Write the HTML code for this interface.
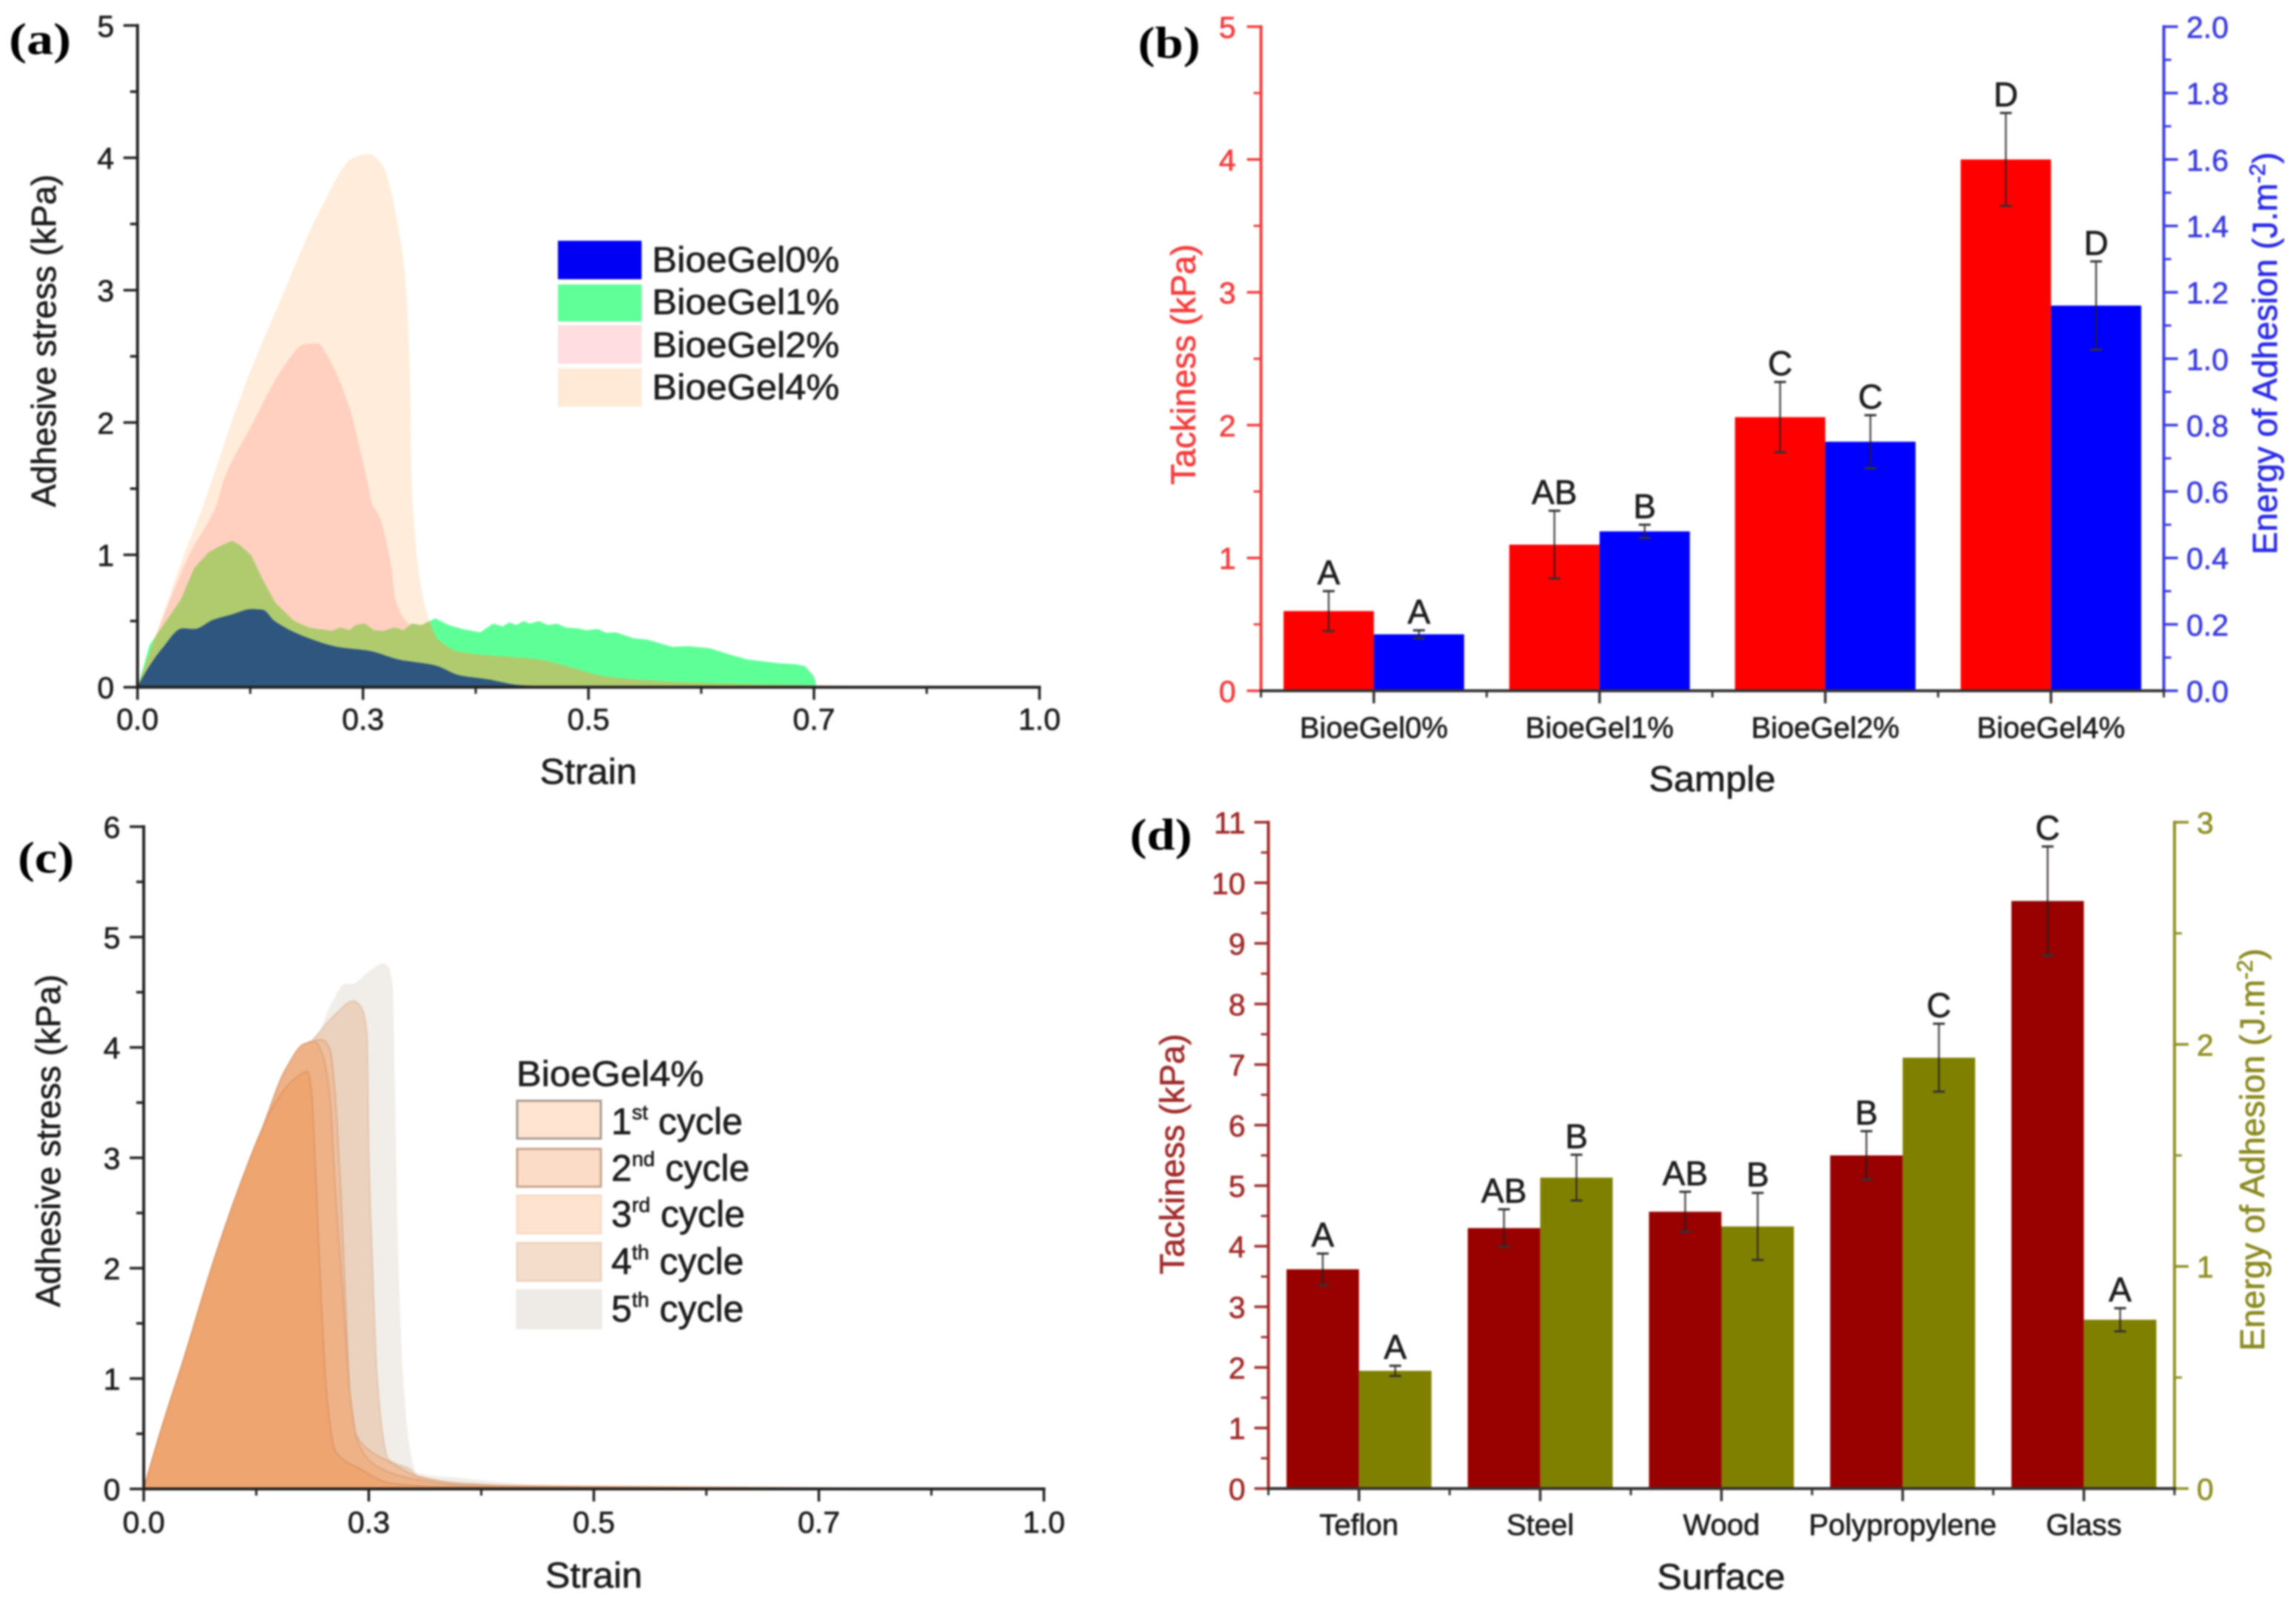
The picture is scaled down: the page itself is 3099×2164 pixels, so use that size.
<!DOCTYPE html>
<html lang="en">
<head>
<meta charset="utf-8">
<title>Adhesive properties of BioeGel samples</title>
<style>
html,body{margin:0;padding:0;background:#fff;width:3099px;height:2164px;overflow:hidden}
svg{display:block;filter:blur(1.3px)}
text{font-family:"Liberation Sans",Arial,sans-serif}
</style>
</head>
<body>
<svg id="figure" xmlns="http://www.w3.org/2000/svg" width="3099" height="2164" viewBox="0 0 3099 2164"></svg>
<script>
/* ---------- Panel (a) data: axis-fraction strain / stress kPa ---------- */
const aStrain4 = [0,0.024,0.05,0.0735,0.082,0.116,0.16,0.203,0.239,0.256,0.27,0.291,0.298,0.302,0.304,0.305,0.315,0.323,0.335,0.358,0.398,0.476,0.62,1];
const aStress4 = [0,0.47,0.97,1.386,1.554,2.225,2.95,3.61,4.0,4.03,3.96,3.40,2.97,2.32,1.554,1.386,0.73,0.51,0.34,0.22,0.10,0.03,0.005,0];
const aStrain2 = [0,0.024,0.058,0.088,0.095,0.124,0.165,0.184,0.2,0.209,0.234,0.248,0.2547,0.26,0.268,0.281,0.286,0.299,0.32,0.357,0.41,0.445,0.48,0.52,0.6,0.75,0.79,1];
const aStress2 = [0,0.45,1.01,1.386,1.554,1.946,2.45,2.59,2.6,2.52,2.13,1.76,1.554,1.386,1.29,0.92,0.66,0.49,0.42,0.267,0.23,0.21,0.15,0.08,0.04,0.015,0.01,0];
const aStrain1 = [0,0.0135,0.027,0.048,0.063,0.079,0.09,0.105,0.114,0.126,0.139,0.1525,0.1735,0.19,0.2,0.2155,0.225,0.235,0.242,0.252,0.262,0.273,0.285,0.295,0.304,0.315,0.33,0.345,0.36,0.38,0.394,0.405,0.412,0.42,0.428,0.435,0.445,0.455,0.465,0.475,0.488,0.497,0.51,0.52,0.53,0.55,0.565,0.593,0.61,0.634,0.655,0.676,0.70,0.712,0.729,0.74,0.75,0.753,1];
const aStress1 = [0,0.32,0.453,0.66,0.90,1.02,1.06,1.106,1.07,0.995,0.81,0.64,0.50,0.45,0.44,0.425,0.45,0.43,0.47,0.48,0.43,0.425,0.45,0.43,0.48,0.47,0.52,0.47,0.44,0.415,0.48,0.46,0.49,0.47,0.5,0.48,0.5,0.47,0.48,0.45,0.445,0.43,0.44,0.41,0.415,0.37,0.36,0.305,0.31,0.295,0.25,0.21,0.19,0.18,0.174,0.16,0.08,0.0,0];
const aStrain0 = [0,0.006,0.027,0.05,0.063,0.084,0.105,0.126,0.139,0.152,0.19,0.2215,0.257,0.289,0.33,0.357,0.388,0.425,0.48,1];
const aStress0 = [0,0.08,0.29,0.445,0.44,0.51,0.55,0.59,0.585,0.5,0.37,0.305,0.275,0.21,0.165,0.09,0.06,0.015,0.003,0];
const aLegendLabels = ["BioeGel0%","BioeGel1%","BioeGel2%","BioeGel4%"];

/* ---------- Shared strain / stress ticks ---------- */
const strainTickValues = [0,0.25,0.5,0.75,1];
const strainTickLabels = ["0.0","0.3","0.5","0.7","1.0"];
const aStressTicks = [0,1,2,3,4,5];
const cStressTicks = [0,1,2,3,4,5,6];

/* ---------- Panel (b) data ---------- */
const bCategories = ["BioeGel0%","BioeGel1%","BioeGel2%","BioeGel4%"];
const bTack = [0.6,1.1,2.06,4.0];
const bTackErr = [0.15,0.255,0.265,0.35];
const bTackLetters = ["A","AB","C","D"];
const bEnergy = [0.17,0.48,0.75,1.16];
const bEnergyErr = [0.012,0.02,0.08,0.133];
const bEnergyLetters = ["A","B","C","D"];
const bLeftTicks = [0,1,2,3,4,5];
const bRightTicks = ["0.0","0.2","0.4","0.6","0.8","1.0","1.2","1.4","1.6","1.8","2.0"];

/* ---------- Panel (c) data ---------- */
const cStrain1 = [0,0.021,0.045,0.076,0.1037,0.131,0.15,0.167,0.182,0.186,0.192,0.197,0.204,0.213,0.241,0.274,0.33,1];
const cStress1 = [0,0.58,1.19,2.02,2.68,3.25,3.55,3.71,3.78,3.63,2.68,1.73,0.79,0.34,0.18,0.05,0.02,0];
const cStrain2 = [0,0.021,0.045,0.076,0.1037,0.131,0.159,0.178,0.19,0.198,0.2066,0.213,0.2214,0.228,0.238,0.26,0.3,0.36,1];
const cStress2 = [0,0.58,1.19,2.02,2.68,3.25,3.82,4.03,4.05,3.95,3.57,2.68,1.73,0.95,0.42,0.2,0.09,0.03,0];
const cStrain3 = [0,0.021,0.045,0.076,0.1037,0.131,0.159,0.178,0.198,0.2066,0.212,0.219,0.2257,0.231,0.238,0.252,0.274,0.304,0.351,0.5,1];
const cStress3 = [0,0.58,1.19,2.02,2.68,3.25,3.82,4.03,4.07,3.99,3.63,2.68,1.41,0.62,0.46,0.34,0.24,0.115,0.05,0.01,0];
const cStrain4 = [0,0.021,0.045,0.076,0.1037,0.131,0.159,0.186,0.213,0.233,0.241,0.248,0.25,0.254,0.2585,0.266,0.271,0.2955,0.304,0.351,0.405,0.55,1];
const cStress4 = [0,0.58,1.19,2.02,2.68,3.25,3.82,4.05,4.3,4.42,4.37,4.11,3.0,2.05,1.10,0.46,0.275,0.18,0.115,0.05,0.02,0.005,0];
const cStrain5 = [0,0.021,0.045,0.076,0.1037,0.131,0.159,0.178,0.192,0.208,0.2245,0.23,0.249,0.266,0.2725,0.2765,0.279,0.283,0.2875,0.2955,0.303,0.351,0.433,0.628,1];
const cStress5 = [0,0.58,1.19,2.02,2.68,3.25,3.82,4.03,4.10,4.39,4.58,4.57,4.68,4.76,4.72,4.55,3.63,2.05,1.10,0.37,0.15,0.10,0.04,0.005,0];

/* ---------- Panel (d) data ---------- */
const dCategories = ["Teflon","Steel","Wood","Polypropylene","Glass"];
const dTack = [3.62,4.3,4.57,5.5,9.7];
const dTackErr = [0.26,0.31,0.33,0.4,0.9];
const dTackLetters = ["A","AB","AB","B","C"];
const dEnergy = [0.53,1.40,1.18,1.94,0.76];
const dEnergyErr = [0.023,0.103,0.151,0.153,0.052];
const dEnergyLetters = ["A","B","B","C","A"];
const dLeftTicks = [0,1,2,3,4,5,6,7,8,9,10,11];
const dRightTicks = [0,1,2,3];

const svg = document.getElementById('figure');
const NS = 'http://www.w3.org/2000/svg';

function mk(parent, tag, attrs, name) {
  const el = document.createElementNS(NS, tag);
  for (const k in attrs) el.setAttribute(k, attrs[k]);
  
  
  parent.appendChild(el);
  return el;
}
function txt(parent, str, x, y, o, name) {
  const col = o.fill || '#1c1c1c';
  const a = {x: x, y: y, 'font-size': o.size || 40, fill: col, stroke: col, 'stroke-width': o.weight ? 0 : 0.7, 'text-anchor': o.anchor || 'middle'};
  if (o.len) { a.textLength = o.len; a.lengthAdjust = 'spacingAndGlyphs'; }
  if (o.family) a.style = 'font-family:' + o.family;
  if (o.weight) a['font-weight'] = o.weight;
  if (o.rot) a.transform = 'rotate(-90 ' + x + ' ' + y + ')';
  const t = mk(parent, 'text', a, name);
  t.textContent = str;
  return t;
}
function line(parent, x1, y1, x2, y2, stroke, w, name) {
  return mk(parent, 'line', {x1: x1, y1: y1, x2: x2, y2: y2, stroke: stroke, 'stroke-width': w}, name);
}
/* straight-segment area, for the jagged trace */
function area(xs, ys, X, Y) {
  let d = '';
  for (let i = 0; i < xs.length; i++) d += (i ? 'L' : 'M') + X(xs[i]).toFixed(1) + ' ' + Y(ys[i]).toFixed(1);
  return d + 'L' + X(xs[xs.length - 1]).toFixed(1) + ' ' + Y(0).toFixed(1) + 'L' + X(xs[0]).toFixed(1) + ' ' + Y(0).toFixed(1) + 'Z';
}
/* monotone-cubic area: no overshoot on the steep falling edges */
function smoothArea(xs, ys, X, Y) {
  const n = xs.length, px = xs.map(X), py = ys.map(Y), dx = [], m = [], t = [];
  for (let i = 0; i < n - 1; i++) { dx[i] = px[i + 1] - px[i]; m[i] = (py[i + 1] - py[i]) / dx[i]; }
  t[0] = m[0]; t[n - 1] = m[n - 2];
  for (let i = 1; i < n - 1; i++) {
    if (m[i - 1] * m[i] <= 0) { t[i] = 0; continue; }
    const w1 = 2 * dx[i] + dx[i - 1], w2 = dx[i] + 2 * dx[i - 1];
    t[i] = (w1 + w2) / (w1 / m[i - 1] + w2 / m[i]);
  }
  let d = 'M' + px[0].toFixed(1) + ' ' + py[0].toFixed(1);
  for (let i = 0; i < n - 1; i++) {
    const h = dx[i] / 3;
    d += 'C' + (px[i] + h).toFixed(1) + ' ' + (py[i] + t[i] * h).toFixed(1) + ' ' + (px[i + 1] - h).toFixed(1) + ' ' + (py[i + 1] - t[i + 1] * h).toFixed(1) + ' ' + px[i + 1].toFixed(1) + ' ' + py[i + 1].toFixed(1);
  }
  return d + 'L' + px[n - 1].toFixed(1) + ' ' + Y(0).toFixed(1) + 'L' + px[0].toFixed(1) + ' ' + Y(0).toFixed(1) + 'Z';
}
function panelLabel(g, str, x, y, len, name) {
  txt(g, str, x, y, {size: 60, family: '"Liberation Serif",serif', weight: 'bold', anchor: 'start', fill: '#000', len: len}, name);
}

/* Line-chart axes for panels a and c */
function strainAxes(g, X, Y, yMax, yTicks, x0, x1, titleX, titleCY, strainY, tickY, prefix) {
  for (let v = 0; v <= yMax; v += 0.5) {
    const major = Number.isInteger(v);
    line(g, x0, Y(v), x0 - (major ? 19 : 10), Y(v), '#222', 3.5, prefix + (major ? '-y-tick' : '-y-minor-tick'));
  }
  yTicks.forEach(v => txt(g, String(v), x0 - 43, Y(v) + 15, {size: 41}, prefix + '-y-tick-label'));
  strainTickValues.forEach((v, i) => {
    line(g, X(v), Y(0), X(v), Y(0) + 17, '#222', 3.5, prefix + '-x-tick');
    if (i < strainTickValues.length - 1) {
      line(g, X(v + 0.125), Y(0), X(v + 0.125), Y(0) + 9, '#222', 3, prefix + '-x-minor-tick');
    }
    txt(g, strainTickLabels[i], X(v), tickY, {size: 41}, prefix + '-x-tick-label');
  });
  line(g, x0, Y(yMax) - 2, x0, Y(0) + 2, '#222', 4, prefix + '-y-axis');
  line(g, x0 - 2, Y(0), x1 + 2, Y(0), '#222', 4, prefix + '-x-axis');
  txt(g, 'Adhesive stress (kPa)', titleX, titleCY, {size: 46, rot: true, len: 449}, prefix + '-y-axis-title');
  txt(g, 'Strain', (x0 + x1) / 2, strainY, {size: 48, len: 131}, prefix + '-x-axis-title');
}

/* Panel (a) */
(function () {
  const g = mk(svg, 'g', {}, 'panel-a');
  const x0 = 185.6, x1 = 1403, y0 = 927.7, yTop = 34.4;
  const X = v => x0 + v * (x1 - x0);
  const Y = v => y0 - v / 5 * (y0 - yTop);
  const p4 = smoothArea(aStrain4, aStress4, X, Y), p2 = smoothArea(aStrain2, aStress2, X, Y), p1 = area(aStrain1, aStress1, X, Y), p0 = smoothArea(aStrain0, aStress0, X, Y);
  mk(g, 'path', {d: p4, fill: '#FFECDA'}, 'area-bioegel4');
  mk(g, 'path', {d: p2, fill: '#FFCFBF'}, 'area-bioegel2');
  mk(g, 'path', {d: p1, fill: '#5FFF98'}, 'area-bioegel1');
  const clip = mk(g, 'clipPath', {id: 'clipGreen'}, 'green-clip');
  mk(clip, 'path', {d: p1}, 'green-clip-shape');
  const ov = mk(g, 'g', {'clip-path': 'url(#clipGreen)'}, 'overlap-region');
  mk(ov, 'path', {d: p4, fill: '#AFCB6E'}, 'overlap-bioegel4');
  mk(ov, 'path', {d: p2, fill: '#AFCB6E'}, 'overlap-bioegel2');
  mk(g, 'path', {d: p0, fill: '#2E567E'}, 'area-bioegel0');
  strainAxes(g, X, Y, 5, aStressTicks, x0, x1, 75, 460, 1058, 985, 'a');
  const swatchY = [325, 384, 439, 497];
  const swatchH = [52, 50, 52, 52];
  const swatchFill = ['#0000F4', '#60FF98', '#FFDDE0', '#FFEAD8'];
  const textY = [367, 424, 482, 539];
  aLegendLabels.forEach((s, i) => {
    mk(g, 'rect', {x: 753, y: swatchY[i], width: 113, height: swatchH[i], fill: swatchFill[i]}, 'legend-swatch');
    txt(g, s, 880, textY[i], {size: 48, anchor: 'start', len: 253}, 'legend-entry');
  });
  panelLabel(g, '(a)', 12, 73, 84, 'panel-label-a');
})();

/* Grouped bar charts */
function barChart(o) {
  const g = mk(svg, 'g', {}, o.prefix);
  const n = o.cats.length;
  const band = (o.x1 - o.x0) / n;
  const Yl = v => o.y0 - v / o.leftMax * (o.y0 - o.yTop);
  const Yr = v => o.y0 - v / o.rightMax * (o.y0 - o.yTop);
  const W = band * 0.4;
  o.cats.forEach((c, i) => {
    const cx = o.x0 + band * (i + 0.5);
    mk(g, 'rect', {x: cx - W, y: Yl(o.left[i]), width: W, height: o.y0 - Yl(o.left[i]), fill: o.leftFill}, 'bar-left-' + c);
    mk(g, 'rect', {x: cx, y: Yr(o.right[i]), width: W, height: o.y0 - Yr(o.right[i]), fill: o.rightFill}, 'bar-right-' + c);
    [[cx - W / 2, Yl, o.left[i], o.leftErr[i], o.leftLetters[i]], [cx + W / 2, Yr, o.right[i], o.rightErr[i], o.rightLetters[i]]].forEach(s => {
      const top = s[1](s[2] + s[3]), bot = s[1](s[2] - s[3]);
      line(g, s[0], top, s[0], bot, 'rgba(40,30,30,.8)', 2.5, 'error-bar');
      line(g, s[0] - 8, top, s[0] + 8, top, '#333', 3, 'error-cap-top');
      line(g, s[0] - 8, bot, s[0] + 8, bot, '#333', 3, 'error-cap-bottom');
      txt(g, s[4], s[0], top - 9, {size: 46}, 'significance-letter');
    });
    txt(g, c, cx, o.catY, {size: 40}, 'x-tick-label');
    line(g, cx, o.y0, cx, o.y0 + 17, '#333', 3.5, 'x-tick');
  });
  for (let i = 0; i <= n; i++) {
    line(g, o.x0 + band * i, o.y0, o.x0 + band * i, o.y0 + 9, '#333', 3, 'x-minor-tick');
  }
  /* left axis */
  o.leftTicks.forEach((v, i) => {
    line(g, o.x0, Yl(v), o.x0 - 19, Yl(v), o.leftColor, 3.5, 'left-y-tick');
    txt(g, String(v), o.leftLabelX, Yl(v) + 15, {size: 41, fill: o.leftColor, anchor: 'end'}, 'left-y-tick-label');
    if (i < o.leftTicks.length - 1) {
      line(g, o.x0, Yl(v + 0.5), o.x0 - 10, Yl(v + 0.5), o.leftColor, 3, 'left-y-minor-tick');
    }
  });
  /* right axis */
  o.rightTicks.forEach((s, i) => {
    const v = Number(s);
    line(g, o.x1, Yr(v), o.x1 + 19, Yr(v), o.rightColor, 3.5, 'right-y-tick');
    txt(g, String(s), o.rightLabelX, Yr(v) + 15, {size: 41, fill: o.rightColor, anchor: 'start'}, 'right-y-tick-label');
    if (i < o.rightTicks.length - 1) {
      const m = (v + Number(o.rightTicks[i + 1])) / 2;
      line(g, o.x1, Yr(m), o.x1 + 10, Yr(m), o.rightColor, 3, 'right-y-minor-tick');
    }
  });
  line(g, o.x0, o.yTop - 2, o.x0, o.y0 + 2, o.leftColor, 4, 'left-y-axis');
  line(g, o.x1, o.yTop - 2, o.x1, o.y0 + 2, o.rightColor, 4, 'right-y-axis');
  line(g, o.x0 - 2, o.y0, o.x1 + 2, o.y0, '#333', 4, 'x-axis');
  txt(g, 'Tackiness (kPa)', o.leftTitleX, o.leftTitleY, {size: 46, fill: o.leftColor, rot: true}, 'left-y-axis-title');
  const t = mk(g, 'text', {x: o.rightTitleX, y: o.rightTitleY, 'font-size': 46, fill: o.rightTitleColor, stroke: o.rightTitleColor, 'stroke-width': 0.7, 'text-anchor': 'middle', transform: 'rotate(-90 ' + o.rightTitleX + ' ' + o.rightTitleY + ')'}, 'right-y-axis-title');
  const t1 = mk(t, 'tspan', {}, 'right-title-main');
  t1.textContent = 'Energy of Adhesion (J.m';
  const t2 = mk(t, 'tspan', {dy: -16, 'font-size': 30}, 'right-title-exponent');
  t2.textContent = '-2';
  const t3 = mk(t, 'tspan', {dy: 16}, 'right-title-close');
  t3.textContent = ')';
  txt(g, o.xTitle, o.xTitleX, o.xTitleY, {size: 48, len: o.xTitleLen}, 'x-axis-title');
  panelLabel(g, o.tag, o.tagX, o.tagY, 84, 'panel-label-' + o.prefix);
}

barChart({prefix: 'b', cats: bCategories, left: bTack, leftErr: bTackErr, leftLetters: bTackLetters,
  right: bEnergy, rightErr: bEnergyErr, rightLetters: bEnergyLetters,
  leftTicks: bLeftTicks, rightTicks: bRightTicks, leftMax: 5, rightMax: 2,
  x0: 1702, x1: 2920.6, y0: 932.5, yTop: 36,
  leftFill: '#FF0000', rightFill: '#0000FF', leftColor: '#F43A3A', rightColor: '#3A3AE0', rightTitleColor: '#2A2AE8',
  leftLabelX: 1668, rightLabelX: 2951, catY: 996,
  leftTitleX: 1613, leftTitleY: 492, rightTitleX: 3073, rightTitleY: 477,
  xTitle: 'Sample', xTitleX: 2311, xTitleY: 1068, xTitleLen: 171,
  tag: '(b)', tagX: 1536, tagY: 78});

/* Panel (c) */
(function () {
  const g = mk(svg, 'g', {}, 'panel-c');
  const x0 = 194, x1 = 1409, y0 = 2010, yTop = 1116;
  const X = v => x0 + v * (x1 - x0);
  const Y = v => y0 - v / 6 * (y0 - yTop);
  mk(g, 'path', {d: smoothArea(cStrain5, cStress5, X, Y), fill: '#F1EDE8'}, 'area-cycle-5');
  mk(g, 'path', {d: smoothArea(cStrain4, cStress4, X, Y), fill: '#EBD2BE', stroke: '#E3C6B0', 'stroke-width': 2}, 'area-cycle-4');
  mk(g, 'path', {d: smoothArea(cStrain3, cStress3, X, Y), fill: '#EFBF9D', stroke: '#DCAE8E', 'stroke-width': 2}, 'area-cycle-3');
  mk(g, 'path', {d: smoothArea(cStrain2, cStress2, X, Y), fill: '#EFB287', stroke: '#DFA47C', 'stroke-width': 2}, 'area-cycle-2');
  mk(g, 'path', {d: smoothArea(cStrain1, cStress1, X, Y), fill: '#EFA56F', stroke: '#DD9868', 'stroke-width': 2}, 'area-cycle-1');
  strainAxes(g, X, Y, 6, cStressTicks, x0, x1, 81, 1540, 2143, 2069, 'c');
  txt(g, 'BioeGel4%', 697, 1466, {size: 48, anchor: 'start', len: 253}, 'legend-title');
  const swY = [1486, 1551, 1614, 1678, 1742];
  const swFill = ['#FFE5D1', '#FBDCC6', '#FFE3D1', '#F5DDCC', '#EEEAE5'];
  const swStroke = ['#A89A90', '#C8A48C', '#F5DCC8', '#EDD3C0', '#EEEAE5'];
  const nums = ['1', '2', '3', '4', '5'];
  const sups = ['st', 'nd', 'rd', 'th', 'th'];
  const legY = [1531, 1594, 1656, 1720, 1784];
  nums.forEach((n, i) => {
    mk(g, 'rect', {x: 698, y: swY[i], width: 113, height: 51, fill: swFill[i], stroke: swStroke[i], 'stroke-width': 3}, 'legend-swatch');
    const t = mk(g, 'text', {x: 825, y: legY[i], 'font-size': 50, fill: '#1c1c1c', stroke: '#1c1c1c', 'stroke-width': 0.7}, 'legend-entry');
    const a = mk(t, 'tspan', {}, 'legend-number');
    a.textContent = n;
    const b = mk(t, 'tspan', {dy: -20, 'font-size': 28}, 'legend-ordinal');
    b.textContent = sups[i];
    const c = mk(t, 'tspan', {dy: 20}, 'legend-cycle-word');
    c.textContent = ' cycle';
  });
  panelLabel(g, '(c)', 24, 1178, 76, 'panel-label-c');
})();

barChart({prefix: 'd', cats: dCategories, left: dTack, leftErr: dTackErr, leftLetters: dTackLetters,
  right: dEnergy, rightErr: dEnergyErr, rightLetters: dEnergyLetters,
  leftTicks: dLeftTicks, rightTicks: dRightTicks, leftMax: 11, rightMax: 3,
  x0: 1712, x1: 2935, y0: 2009.5, yTop: 1110,
  leftFill: '#990000', rightFill: '#808000', leftColor: '#A02A2A', rightColor: '#8F8F22', rightTitleColor: '#8A8A20',
  leftLabelX: 1681, rightLabelX: 2965, catY: 2072,
  leftTitleX: 1598, leftTitleY: 1558, rightTitleX: 3056, rightTitleY: 1552,
  xTitle: 'Surface', xTitleX: 2323, xTitleY: 2145, xTitleLen: 173,
  tag: '(d)', tagX: 1525, tagY: 1147});
</script>
</body>
</html>
